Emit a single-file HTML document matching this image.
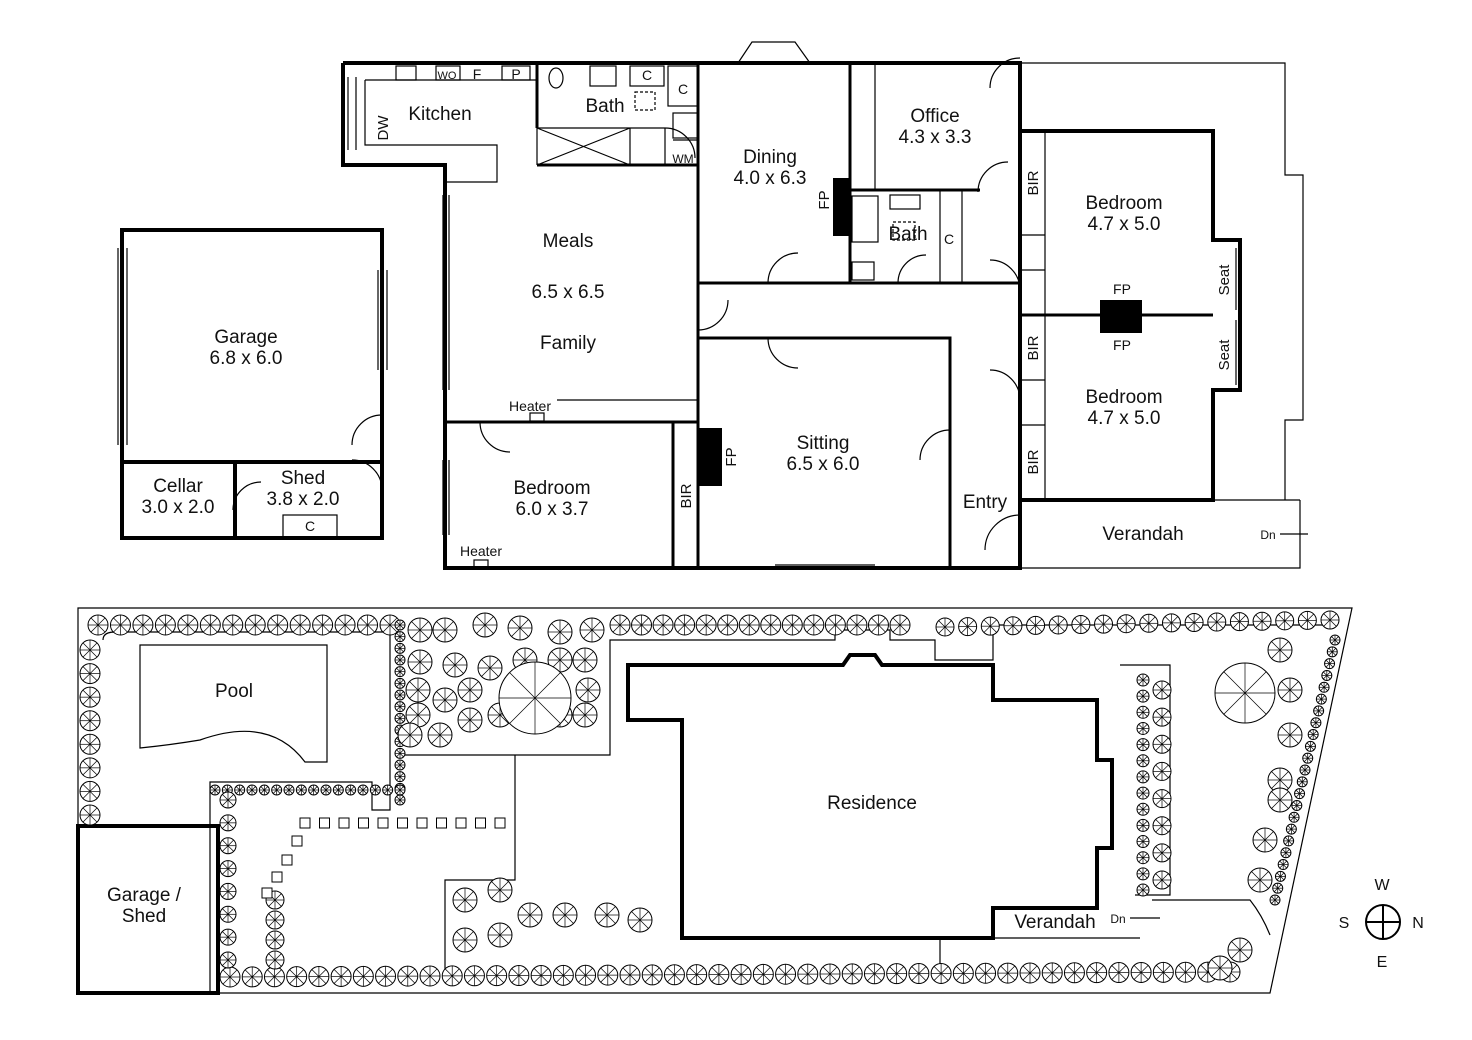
<!DOCTYPE html>
<html><head><meta charset="utf-8"><style>
html,body{margin:0;padding:0;background:#fff}
svg{display:block}
text{font-family:"Liberation Sans",sans-serif;fill:#111}
.t{font-size:19px;text-anchor:middle}
.s{font-size:14px;text-anchor:middle}
.w{stroke:#000;stroke-width:4;fill:none}
.th{stroke:#000;stroke-width:1.2;fill:none}
.tr{stroke:#000;stroke-width:1;fill:#fff}
</style></head><body>
<svg id="s" width="1472" height="1040" viewBox="0 0 1472 1040" xmlns="http://www.w3.org/2000/svg">
<path class="w" d="M343,63 H1020 V131 M343,63 V165 H445 V568 H1020 V500 M1020,131 H1213 V240 H1240 V390 H1213 V500 H1020 M1020,131 V500"/>
<path class="th" d="M1020,63 H1285 V175 H1303 V420 H1285 V500 M1020,568 H1300 V500 M1020,500 H1300"/>
<path class="th" d="M365,80 H537 M365,80 V145 H497 V182 H445"/>
<rect class="th" x="396" y="66" width="20" height="14"/><rect class="th" x="436" y="66" width="24" height="14"/><rect class="th" x="502" y="66" width="28" height="14"/>
<rect class="th" x="590" y="66" width="26" height="20"/><rect class="th" x="630" y="66" width="34" height="20"/><rect class="th" x="668" y="66" width="30" height="40"/><rect class="th" x="673" y="113" width="25" height="25"/>
<path class="th" d="M537,128 H665 M537,128 V165 M630,128 V165 M537,128 L630,165 M630,128 L537,165 M665,128 V165 M673,140 H698"/>
<rect class="th" x="635" y="92" width="20" height="18" stroke-dasharray="3,2"/>
<ellipse class="th" cx="556" cy="78" rx="7" ry="10"/>
<path class="w" style="stroke-width:3" d="M698,63 V568 M850,63 V283 M698,283 H1020 M698,338 H950 V568 M445,422 H698 M673,422 V568 M537,63 V128 M537,165 H698 M850,190 H980 M1020,315 H1213"/>
<path class="th" d="M875,63 V190 M940,190 V283 M962,190 V283 M557,400 H698 M1045,131 V500 M1020,235 H1045 M1020,270 H1045 M1020,380 H1045 M1020,425 H1045"/>
<path class="th" d="M738,63 L752,42 H795 L810,63"/>
<path class="th" d="M443,195 V390 M449,195 V390 M443,460 V535 M449,460 V535 M118,248 V445 M127,248 V445 M378,270 V370 M387,270 V370 M348,77 V150 M356,77 V150 M775,568 H875 M775,565 H875 M595,568 H645 M1236,248 V310 M1236,320 V385 M920,63 H952 M393,165 H425"/>
<rect class="th" x="852" y="196" width="26" height="46"/><rect class="th" x="852" y="262" width="22" height="18"/><rect class="th" x="890" y="195" width="30" height="14"/><rect class="th" x="893" y="222" width="22" height="18" stroke-dasharray="3,2"/>
<path class="th" d="M990,88 a30,30 0 0 1 30,-30 M978,192 a30,30 0 0 1 30,-30 M768,283 a30,30 0 0 1 30,-30 M698,330 a30,30 0 0 0 30,-30 M768,338 a30,30 0 0 0 30,30 M950,430 a30,30 0 0 0 -30,30 M985,550 a35,35 0 0 1 35,-35 M1020,290 a30,30 0 0 0 -30,-30 M1020,400 a30,30 0 0 0 -30,-30 M480,422 a30,30 0 0 0 30,30 M382,415 a30,30 0 0 0 -30,30 M382,490 a30,30 0 0 0 -30,-30 M665,128 a30,30 0 0 1 30,30 M898,283 a28,28 0 0 1 28,-28 M233,510 a28,28 0 0 1 28,-28"/>
<rect x="698" y="428" width="24" height="58" fill="#000"/>
<rect x="833" y="178" width="17" height="58" fill="#000"/>
<rect x="1100" y="300" width="42" height="33" fill="#000"/>
<path class="w" d="M122,230 H382 V538 H122 Z M122,462 H382 M235,462 V538"/>
<rect class="th" x="283" y="515" width="54" height="22"/>
<rect class="th" x="530" y="413" width="14" height="8"/><rect class="th" x="474" y="560" width="14" height="8"/>
<text class="t" x="440" y="120">Kitchen</text>
<text class="t" x="605" y="112">Bath</text>
<text class="t" x="770" y="163">Dining</text><text class="t" x="770" y="184">4.0 x 6.3</text>
<text class="t" x="935" y="122">Office</text><text class="t" x="935" y="143">4.3 x 3.3</text>
<text class="t" x="908" y="240">Bath</text>
<text class="t" x="1124" y="209">Bedroom</text><text class="t" x="1124" y="230">4.7 x 5.0</text>
<text class="t" x="1124" y="403">Bedroom</text><text class="t" x="1124" y="424">4.7 x 5.0</text>
<text class="t" x="568" y="247">Meals</text><text class="t" x="568" y="298">6.5 x 6.5</text><text class="t" x="568" y="349">Family</text>
<text class="t" x="823" y="449">Sitting</text><text class="t" x="823" y="470">6.5 x 6.0</text>
<text class="t" x="552" y="494">Bedroom</text><text class="t" x="552" y="515">6.0 x 3.7</text>
<text class="t" x="985" y="508">Entry</text>
<text class="t" x="1143" y="540">Verandah</text>
<text class="t" x="246" y="343">Garage</text><text class="t" x="246" y="364">6.8 x 6.0</text>
<text class="t" x="178" y="492">Cellar</text><text class="t" x="178" y="513">3.0 x 2.0</text>
<text class="t" x="303" y="484">Shed</text><text class="t" x="303" y="505">3.8 x 2.0</text>
<text class="s" x="310" y="531">C</text>
<text class="s" x="530" y="411">Heater</text><text class="s" x="481" y="556">Heater</text>
<text class="s" x="1122" y="294">FP</text><text class="s" x="1122" y="350">FP</text>
<text class="s" x="477" y="79">F</text><text class="s" x="516" y="79">P</text><text class="s" x="647" y="80">C</text><text class="s" x="683" y="94">C</text><text class="s" x="949" y="244">C</text>
<text class="s" x="447" y="79" style="font-size:11px">WO</text><text class="s" x="683" y="163" style="font-size:12px">WM</text>
<text class="s" x="1268" y="539" style="font-size:12px">Dn</text>
<path class="th" d="M1280,534 H1308"/>
<g class="s" style="font-size:15px">
<text transform="translate(388,128) rotate(-90)">DW</text>
<text transform="translate(829,200) rotate(-90)">FP</text>
<text transform="translate(736,457) rotate(-90)">FP</text>
<text transform="translate(1038,183) rotate(-90)">BIR</text>
<text transform="translate(1038,348) rotate(-90)">BIR</text>
<text transform="translate(1038,462) rotate(-90)">BIR</text>
<text transform="translate(691,496) rotate(-90)">BIR</text>
<text transform="translate(1229,280) rotate(-90)">Seat</text>
<text transform="translate(1229,355) rotate(-90)">Seat</text>
</g>
<path class="th" d="M78,608 H1352 L1270,993 H78 Z"/>
<path class="th" d="M103,640 Q103,632 115,632 H390 V810 H372 V782 H210 V993 M140,645 H327 V762 H305 Q270,715 200,740 Q170,745 140,748 Z M405,755 H610 V640 H835 V630 H890 V640 H935 V660 H993 V625 H1335 M515,755 V880 H445 V970 M1120,665 H1170 V895 H1135 M1152,900 H1250 Q1262,915 1270,935 M940,940 V965"/>
<path class="w" d="M628,665 H843 L850,655 H875 L882,665 H993 V700 H1097 V760 H1112 V848 H1097 V908 H993 V938 H682 V720 H628 Z"/>
<path class="w" d="M78,826 H218 V993 H78 Z"/>
<path class="th" d="M993,908 V938 H1140"/>
<text class="t" x="234" y="697">Pool</text>
<text class="t" x="872" y="809">Residence</text>
<text class="t" x="144" y="901">Garage /</text><text class="t" x="144" y="922">Shed</text>
<text class="t" x="1055" y="928">Verandah</text>
<text class="s" x="1118" y="923" style="font-size:12px">Dn</text>
<path class="th" d="M1130,918 H1160"/>
<circle cx="1383" cy="922" r="17" class="th" style="stroke-width:2"/>
<path d="M1383,905 V939 M1366,922 H1400" stroke="#000" stroke-width="2"/>
<text class="t" x="1382" y="890" style="font-size:16px">W</text><text class="t" x="1382" y="967" style="font-size:16px">E</text>
<text class="t" x="1344" y="928" style="font-size:16px">S</text><text class="t" x="1418" y="928" style="font-size:16px">N</text>
<g id="trees"></g>
</svg>
<script>
var g=document.getElementById('trees'),ns='http://www.w3.org/2000/svg';
function c(x,y,r){var e=document.createElementNS(ns,'circle');e.setAttribute('cx',x);e.setAttribute('cy',y);e.setAttribute('r',r);e.setAttribute('class','tr');g.appendChild(e);
 for(var i=0;i<8;i++){var a=i*Math.PI/4,l=document.createElementNS(ns,'line');l.setAttribute('x1',x);l.setAttribute('y1',y);l.setAttribute('x2',x+r*Math.cos(a));l.setAttribute('y2',y+r*Math.sin(a));l.setAttribute('stroke','#000');l.setAttribute('stroke-width','0.7');g.appendChild(l);}}
function line(x1,y1,x2,y2,step,r){var d=Math.hypot(x2-x1,y2-y1),n=Math.round(d/step);for(var i=0;i<=n;i++)c(x1+(x2-x1)*i/n,y1+(y2-y1)*i/n,r);}
line(98,625,390,625,22,10);line(620,625,900,625,22,10);line(945,627,1330,620,23,9);
line(90,650,90,815,23,10);line(230,977,1230,972,22,10);
line(1335,640,1275,900,12,5);line(400,625,400,800,12,5);line(215,790,400,790,12,5);
line(228,800,228,960,24,8);line(275,900,275,960,24,9);
line(1143,680,1143,890,16,6);line(1162,690,1162,880,28,9);
[[420,630],[445,630],[485,625],[520,628],[560,632],[592,630],[420,662],[455,665],[418,690],[418,715],[445,700],[470,690],[490,668],[525,660],[560,660],[585,660],[588,690],[585,715],[560,715],[500,715],[470,720],[440,735],[410,735],[465,900],[500,890],[465,940],[500,935],[530,915],[565,915],[607,915],[640,920],[1280,650],[1290,690],[1290,735],[1280,780],[1280,800],[1265,840],[1260,880],[1240,950],[1220,968]].forEach(function(p){c(p[0],p[1],12)});
c(535,698,36);c(1245,693,30);
for(var i=0;i<11;i++){var r=document.createElementNS(ns,'rect');r.setAttribute('x',300+i*19.5);r.setAttribute('y',818);r.setAttribute('width',10);r.setAttribute('height',10);r.setAttribute('class','tr');g.appendChild(r);}
[[292,836],[282,855],[272,872],[262,888]].forEach(function(p){var r=document.createElementNS(ns,'rect');r.setAttribute('x',p[0]);r.setAttribute('y',p[1]);r.setAttribute('width',10);r.setAttribute('height',10);r.setAttribute('class','tr');g.appendChild(r);});
</script>
</body></html>
